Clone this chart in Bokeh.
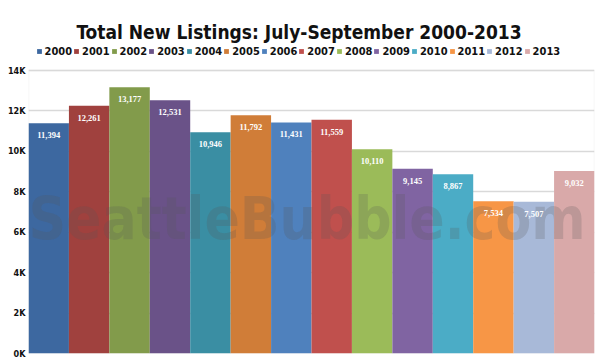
from bokeh.plotting import figure
from bokeh.models import (ColumnDataSource, FactorRange, Range1d, FixedTicker,
                          CustomJSTickFormatter, Label, LabelSet, Legend, LegendItem,
                          BoxAnnotation)
from bokeh.embed import file_html
from bokeh.resources import INLINE

years = ["2000", "2001", "2002", "2003", "2004", "2005", "2006",
         "2007", "2008", "2009", "2010", "2011", "2012", "2013"]
listings = [11394, 12261, 13177, 12531, 10946, 11792, 11431,
            11559, 10110, 9145, 8867, 7534, 7507, 9032]
colors = ["#3D68A0", "#A0413E", "#829B4B", "#6A5288", "#3A8EA3", "#D07D38", "#4F81BD",
          "#C0504D", "#9BBB59", "#8064A2", "#4BACC6", "#F79646", "#A8B9D8", "#D9A9A9"]
y_ticks = [0, 2000, 4000, 6000, 8000, 10000, 12000, 14000]
y_max = 14000
title_text = "Total New Listings: July-September 2000-2013"
watermark_text = "SeattleBubble.com"

FONT = "DejaVu Sans Condensed"

# canvas geometry: plot area 283 px tall for 0..14K, with 70 px of header space above it
PLOT_PX = 283
HEADER_PX = 70
y_top = y_max * (PLOT_PX + HEADER_PX) / PLOT_PX

source = ColumnDataSource(dict(
    year=years,
    value=listings,
    color=colors,
    label=[f"{v:,}" for v in listings],
))

p = figure(width=600, height=363, output_backend="svg", toolbar_location=None,
           x_range=FactorRange(*years, range_padding=0),
           y_range=Range1d(0, y_top),
           x_axis_location=None,
           min_border_left=28, min_border_right=6, min_border_top=0, min_border_bottom=10)

bars = p.vbar(x="year", top="value", width=1.0, source=source, fill_color="color",
              line_color=None)

# axes and grid
p.yaxis.ticker = FixedTicker(ticks=y_ticks)
p.yaxis.formatter = CustomJSTickFormatter(code="return (tick/1000).toFixed(0) + 'K';")
p.yaxis.axis_line_color = None
p.yaxis.major_tick_line_color = None
p.yaxis.minor_tick_line_color = None
p.yaxis.major_tick_out = 0
p.yaxis.major_tick_in = 0
p.yaxis.minor_tick_out = 0
p.yaxis.axis_label_standoff = 0
p.yaxis.major_label_standoff = 3
p.yaxis.major_label_text_font = FONT
p.yaxis.major_label_text_font_style = "bold"
p.yaxis.major_label_text_font_size = "9px"
p.yaxis.major_label_text_color = "#111111"
p.xgrid.grid_line_color = None
p.ygrid.grid_line_color = "#d9d9d9"
p.ygrid.grid_line_width = 1.5
p.outline_line_color = None
p.background_fill_color = "white"

# plot-area border (0 .. 14K)
border = BoxAnnotation(bottom=0, top=y_max, fill_alpha=0,
                       line_color="#d9d9d9", line_width=1.5, level="underlay")
p.add_layout(border)

# watermark (drawn over the bars)
wm = Label(x=0, y=135, x_units="screen", y_units="screen", text=watermark_text,
           text_font=FONT, text_font_style="bold", text_font_size="58px",
           text_color="#555555", text_alpha=0.22, text_baseline="alphabetic")
p.add_layout(wm)

# value labels
labels = LabelSet(x="year", y="value", text="label", source=source, y_offset=-12,
                  text_align="center", text_baseline="middle", text_color="white",
                  text_font=FONT, text_font_style="bold", text_font_size="8.5px")
p.add_layout(labels)

# title
t = Label(x=270.5, y=322, x_units="screen", y_units="screen", text=title_text,
          text_font=FONT, text_font_style="bold", text_font_size="19px",
          text_color="#111111", text_align="center", text_baseline="alphabetic")
p.add_layout(t)

# legend
items = [LegendItem(label=y, renderers=[bars], index=i) for i, y in enumerate(years)]
leg = Legend(items=items, orientation="horizontal", location=(7.5, 295.5),
             border_line_color=None, background_fill_alpha=0,
             padding=0, margin=0, spacing=1,
             glyph_width=6, glyph_height=6, label_standoff=3, label_height=13,
             label_text_font=FONT, label_text_font_style="bold",
             label_text_font_size="11px", label_text_color="#111111")
p.add_layout(leg)

open("out.html", "w").write(file_html(p, INLINE))
